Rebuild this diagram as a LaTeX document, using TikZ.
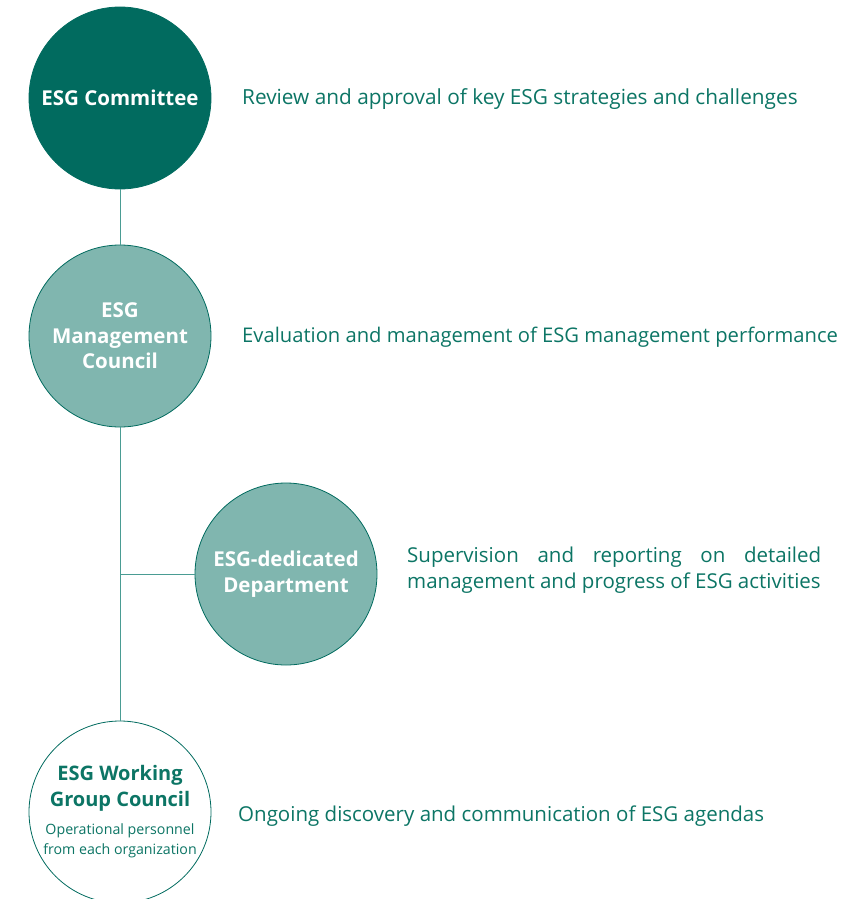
\documentclass[tikz,border=0pt]{standalone}
\usepackage{fontspec}
\setmainfont{Open Sans}
\usepackage{tikz}

\definecolor{esgdark}{HTML}{016B5F}
\definecolor{esglight}{HTML}{80B6AF}
\definecolor{esgline}{HTML}{4A9C93}
\definecolor{esgtext}{HTML}{0C7565}

\tikzset{
  unit/.style={circle, minimum size=182pt, inner sep=0pt, align=center,
    draw=esgdark, line width=0.8pt},
  unitname/.style={font=\fontsize{20.5}{25.5}\selectfont\bfseries},
  role/.style={anchor=west, inner sep=0pt, text=esgtext, font=\fontsize{20.5}{26}\selectfont},
  link/.style={draw=esgline, line width=1pt}
}

\begin{document}
\begin{tikzpicture}[x=1pt,y=-1pt]
    \useasboundingbox (0,0) rectangle (864,899);

    \node[unit, fill=esgdark, text=white, unitname] (committee) at (120,98) {ESG Committee};
    \node[unit, fill=esglight, text=white, unitname] (council) at (120,336) {ESG\\Management\\Council};
    \node[unit, fill=esglight, text=white, unitname] (dept) at (286,574) {ESG-dedicated\\Department};
    \node[unit, fill=white, text=esgtext, font=\fontsize{20}{26}\selectfont] (working) at (120,812)
        {\raisebox{-3pt}{\bfseries ESG Working}\\
         \raisebox{-3pt}{\bfseries Group Council}\\[5pt]
         {\fontsize{14.2}{20}\selectfont Operational personnel}\\[-6pt]
         {\fontsize{14.2}{20}\selectfont from each organization}};

    \draw[link] (committee.south) -- (council.north);
    \draw[link] (council.south) -- (working.north);
    \coordinate (branch) at (council.south |- dept.west);
    \draw[link] (branch) -- (dept.west);

    \node[role, font=\fontsize{20.8}{26}\selectfont] (r1) at (242,99) {Review and approval of key ESG strategies and challenges};
    \node[role, font=\fontsize{20.2}{26}\selectfont] (r2) at (242,337) {Evaluation and management of ESG management performance};
    \node[role, align=left] (r3) at (407,570)
        {\makebox[414pt][s]{Supervision and reporting on detailed}\\
         management and progress of ESG activities};
    \node[role] (r4) at (238,816) {Ongoing discovery and communication of ESG agendas};
\end{tikzpicture}
\end{document}
